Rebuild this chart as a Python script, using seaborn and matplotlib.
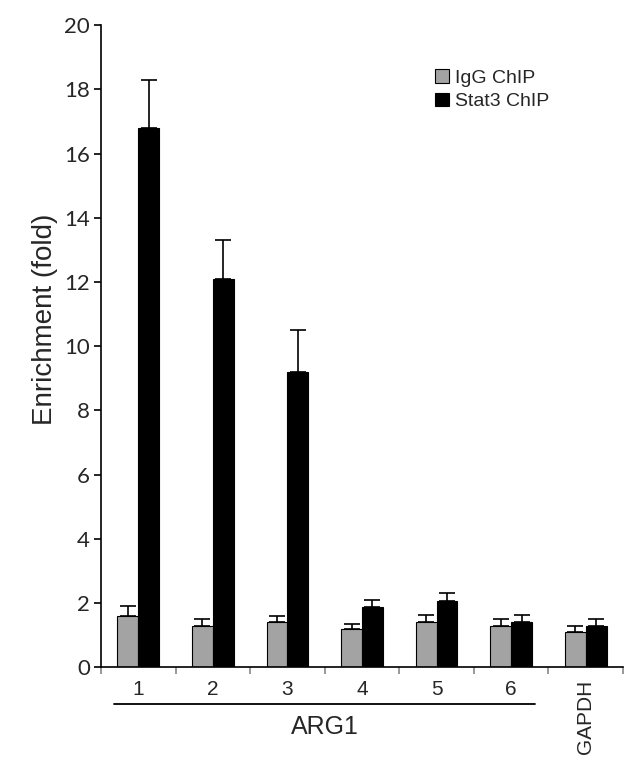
import numpy as np
import pandas as pd
import matplotlib
matplotlib.use("Agg")
import matplotlib.pyplot as plt
from matplotlib.patches import Patch
from matplotlib.ticker import MultipleLocator, FixedLocator
import seaborn as sns

# data
sites = ['1', '2', '3', '4', '5', '6', 'GAPDH']
igg = [1.6, 1.3, 1.4, 1.2, 1.4, 1.3, 1.1]
igg_err = [0.3, 0.22, 0.2, 0.16, 0.23, 0.22, 0.2]
stat3 = [16.8, 12.1, 9.2, 1.88, 2.08, 1.42, 1.28]
stat3_err = [1.5, 1.2, 1.3, 0.22, 0.25, 0.21, 0.24]
groups = ['IgG ChIP', 'Stat3 ChIP']
colors = {'IgG ChIP': '#a3a3a3', 'Stat3 ChIP': '#000000'}

df = pd.DataFrame({
    'site': sites * 2,
    'value': igg + stat3,
    'group': [groups[0]] * len(sites) + [groups[1]] * len(sites),
})

sns.set_style('white')
plt.rcParams['font.family'] = ['Liberation Sans', 'DejaVu Sans']

fig = plt.figure(figsize=(6.42, 7.71), dpi=100)
ax = fig.add_axes([0.1573, 0.1345, 0.8131, 0.8327])

sns.barplot(data=df, x='site', y='value', hue='group', order=sites,
            hue_order=groups, palette=colors, width=0.56, errorbar=None,
            edgecolor='black', linewidth=0.8, legend=False, ax=ax)

# one-sided error bars on top of each bar
for cont, err in zip(ax.containers, [igg_err, stat3_err]):
    xs = [p.get_x() + p.get_width() / 2 for p in cont.patches]
    ys = [p.get_height() for p in cont.patches]
    ax.errorbar(xs, ys, yerr=[np.zeros(len(err)), err], fmt='none',
                ecolor='black', elinewidth=1.2, capsize=5.5, capthick=1.2,
                zorder=1)

ax.set_xlim(-0.5, len(sites) - 0.5)
ax.set_ylim(0, 20)
ax.yaxis.set_major_locator(MultipleLocator(2))

for s in ['top', 'right']:
    ax.spines[s].set_visible(False)
for s in ['left', 'bottom']:
    ax.spines[s].set_color('black')
    ax.spines[s].set_linewidth(1.2)

ax.tick_params(axis='y', left=True, length=5, width=1.2, pad=3, color='black')
for lab in ax.get_yticklabels():
    lab.set_fontfamily('Lato')
    lab.set_fontsize(16)

# labels at the centres, gray ticks between groups
ax.xaxis.set_minor_locator(FixedLocator(np.arange(-0.5, len(sites), 1.0)))
ax.tick_params(axis='x', which='major', length=0, pad=9, labelsize=15)
ax.tick_params(axis='x', which='minor', bottom=True, length=5, width=1.2,
               color='#888888')
xl = ax.get_xticklabels()
xl[-1].set_rotation(90)
xl[-1].set_fontsize(15)

ax.set_xlabel('')
ax.set_ylabel('Enrichment (fold)', fontsize=20)
ax.yaxis.set_label_coords(-0.083, 0.542)

# ARG1 bracket under sites 1-6
tr = ax.get_xaxis_transform()
ax.plot([-0.33, 5.32], [-0.057, -0.057], color='black', lw=1.3,
        transform=tr, clip_on=False)
ax.text(2.5, -0.093, 'ARG1', fontsize=18, ha='center', va='center',
        transform=tr)

handles = [Patch(facecolor=colors[g], edgecolor='black', linewidth=0.8,
                 label=g) for g in groups]
ax.legend(handles=handles, loc='upper left', bbox_to_anchor=(0.677, 0.9105),
          bbox_transform=fig.transFigure, frameon=False, fontsize=14,
          handlelength=0.72, handleheight=0.72, handletextpad=0.35,
          labelspacing=0.3, borderpad=0, borderaxespad=0)

fig.savefig('out.png', dpi=100)
